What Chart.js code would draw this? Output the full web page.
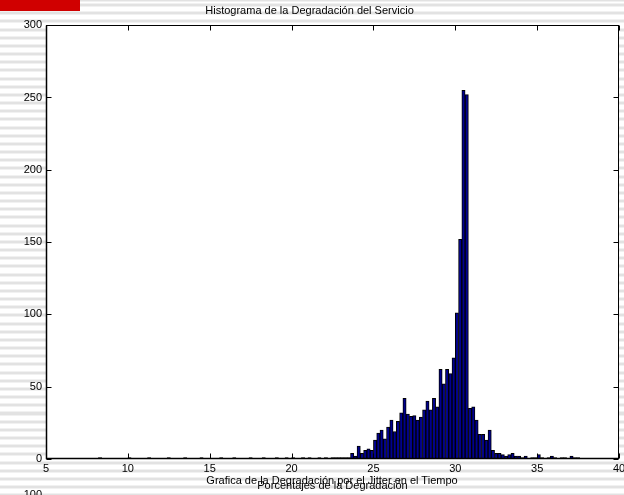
<!DOCTYPE html>
<html>
<head>
<meta charset="utf-8">
<script src="https://cdn.jsdelivr.net/npm/chart.js@4/dist/chart.umd.min.js"></script>
<style>
  html, body { margin: 0; padding: 0; }
  body {
    width: 624px; height: 495px; overflow: hidden; position: relative;
    background-color: #fff;
    background-image: repeating-linear-gradient(to bottom, #e2e2e2 0px, #e2e2e2 3px, #ffffff 3px, #ffffff 8.17px);
    background-position: 0 3.5px;
    font-family: "Liberation Sans", Arial, sans-serif;
  }
  #wrap { position: absolute; left: 0; top: 0; width: 624px; height: 495px; }
  #redbar { position: absolute; left: 0; top: 0; width: 80px; height: 11px; background: #d00000; }
  .txt { position: absolute; font-size: 11px; line-height: 13px; color: #000; white-space: nowrap; }
  #sub { left: 32px; width: 600px; top: 474px; text-align: center; }
  #cut { left: 0; width: 42px; top: 488px; text-align: right; }
</style>
</head>
<body>
<div id="redbar"></div>
<div id="wrap"><canvas id="c" width="624" height="495"></canvas></div>
<div class="txt" id="sub">Grafica de la Degradación por el Jitter en el Tiempo</div>
<div class="txt" id="cut">100</div>
<script>
// Histogram bin centers (percent degradation) and counts
const binCenters = [
  8.3, 10.1, 11.3, 12.5, 13.5, 14.5, 15.7, 16.5, 17.5, 18.3, 19.1, 19.7, 20.1, 20.7,
  21.1, 21.7, 22.1, 22.5, 22.7, 22.9, 23.1, 23.3, 23.5,
  23.7, 23.9, 24.1, 24.3, 24.5, 24.7, 24.9, 25.1, 25.3, 25.5, 25.7, 25.9,
  26.1, 26.3, 26.5, 26.7, 26.9, 27.1, 27.3, 27.5, 27.7, 27.9,
  28.1, 28.3, 28.5, 28.7, 28.9, 29.1, 29.3, 29.5, 29.7, 29.9,
  30.1, 30.3, 30.5, 30.7, 30.9, 31.1, 31.3, 31.5, 31.7, 31.9,
  32.1, 32.3, 32.5, 32.7, 32.9, 33.1, 33.3, 33.5, 33.7, 33.9,
  34.1, 34.3, 34.7, 34.9, 35.1, 35.3, 35.7, 35.9, 36.1, 36.5, 36.7, 37.1, 37.3, 37.5
];
const counts = [
  1, 1, 1, 1, 1, 1, 1, 1, 1, 1, 1, 1, 1, 1,
  1, 1, 1, 1, 1, 1, 1, 1, 1,
  4, 2, 9, 4, 6, 7, 6, 13, 18, 20, 14, 22,
  27, 19, 26, 32, 42, 31, 29.5, 30, 27, 29,
  34, 40, 34, 42, 36, 62, 52, 62, 59, 70,
  101, 152, 255, 252, 35, 36, 27, 17, 17, 13,
  20, 6, 4, 4, 3, 2, 3, 4, 2, 2,
  1, 2, 1, 1, 3, 1, 1, 2, 1, 1, 1, 2, 1, 1
];
const xTicks = [5, 10, 15, 20, 25, 30, 35, 40];
const yTicks = [0, 50, 100, 150, 200, 250, 300];

const titleText = "Histograma de la Degradación del Servicio";
const xLabel = "Porcentajes de la Degradación";

Chart.defaults.font.family = '"Liberation Sans", Arial, sans-serif';
Chart.defaults.font.size = 11;
Chart.defaults.color = '#000';

const boxPlugin = {
  id: 'boxPlugin',
  beforeDatasetsDraw(chart) {
    const { ctx, chartArea: a } = chart;
    ctx.save();
    ctx.fillStyle = '#fff';
    ctx.fillRect(a.left, a.top, a.right - a.left, a.bottom - a.top);
    ctx.restore();
  },
  afterDatasetsDraw(chart) {
    const { ctx, chartArea: a, scales } = chart;
    ctx.save();
    ctx.strokeStyle = '#000';
    ctx.lineWidth = 1;
    const L = Math.round(a.left) + 0.5, R = Math.round(a.right) - 0.5;
    const T = Math.round(a.top) + 0.5, B = Math.round(a.bottom) - 0.5;
    ctx.beginPath();
    xTicks.forEach(v => {
      const x = Math.round(scales.x.getPixelForValue(v)) + 0.5;
      ctx.moveTo(x, B); ctx.lineTo(x, B - 5);
      ctx.moveTo(x, T); ctx.lineTo(x, T + 5);
    });
    yTicks.forEach(v => {
      const y = Math.round(scales.y.getPixelForValue(v)) + 0.5;
      ctx.moveTo(L, y); ctx.lineTo(L + 5, y);
      ctx.moveTo(R, y); ctx.lineTo(R - 5, y);
    });
    ctx.stroke();
    ctx.strokeRect(L, T, R - L, B - T);
    // heavier left and bottom axis lines
    ctx.lineWidth = 1.5;
    ctx.beginPath();
    ctx.moveTo(L, T); ctx.lineTo(L, B); ctx.lineTo(R, B);
    ctx.stroke();
    ctx.restore();
  }
};

new Chart(document.getElementById('c'), {
  type: 'bar',
  data: {
    datasets: [{
      data: binCenters.map((c, i) => ({ x: c, y: counts[i] })),
      backgroundColor: '#00008f',
      borderColor: '#000',
      borderWidth: 1,
      borderSkipped: false,
      barPercentage: 1,
      categoryPercentage: 1
    }]
  },
  options: {
    responsive: false,
    animation: false,
    events: [],
    layout: { padding: { left: 0, right: 5, top: 0, bottom: 0 } },
    plugins: {
      legend: { display: false },
      tooltip: { enabled: false },
      title: {
        display: true, text: titleText,
        font: { size: 11, weight: 'normal' }, color: '#000',
        padding: { top: 4, bottom: 8 }
      }
    },
    scales: {
      x: {
        type: 'linear', min: 5, max: 40, offset: false,
        grid: { display: false, drawTicks: false },
        border: { display: false },
        ticks: { stepSize: 5, padding: 3, maxRotation: 0, autoSkip: false, color: '#000' },
        title: { display: true, text: xLabel, font: { size: 11 }, color: '#000', padding: { top: 0, bottom: 2.4 } },
        afterFit(s) { s.height = 36; s.paddingLeft = 0; s.paddingRight = 0; }
      },
      y: {
        min: 0, max: 300,
        grid: { display: false, drawTicks: false },
        border: { display: false },
        ticks: { stepSize: 50, padding: 4, color: '#000' },
        afterFit(s) { s.width = 46; s.paddingTop = 0; s.paddingBottom = 0; }
      }
    }
  },
  plugins: [boxPlugin]
});
</script>
</body>
</html>
